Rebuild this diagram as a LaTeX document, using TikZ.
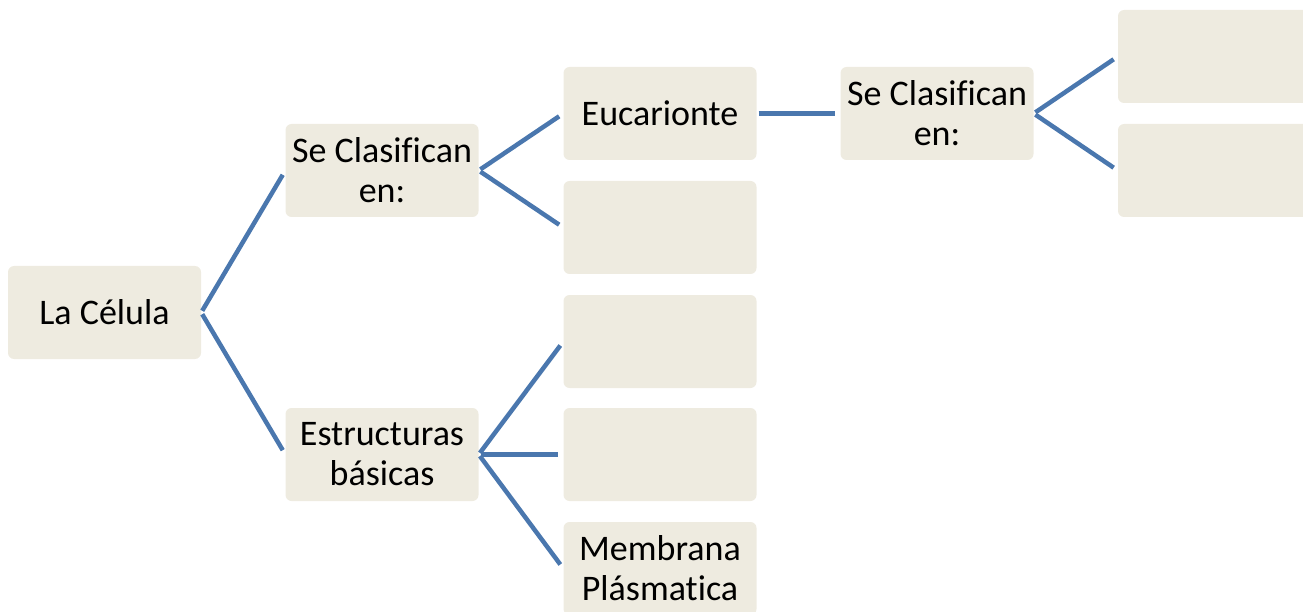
\documentclass[tikz,border=0pt]{standalone}
\usepackage{fontspec}
\setmainfont[Ligatures=NoCommon]{Carlito}
\usepackage{tikz}

\definecolor{boxfill}{HTML}{EEEBE0}
\definecolor{linkblue}{HTML}{4A77AE}

\begin{document}
\begin{tikzpicture}[x=1pt,y=-1pt,
    cell/.style={fill=boxfill,rounded corners=6pt,minimum width=193pt,minimum height=93pt,
      inner sep=0pt,align=center,font=\fontsize{36}{40}\selectfont},
    link/.style={draw=linkblue,line width=4.5pt,shorten <=2pt,shorten >=5pt}]
  \useasboundingbox (0,0) rectangle (1303,612);
  \clip (0,0) rectangle (1303,612);

  \node[cell] (celula) at (104.5,312.5) {La Célula};
  \node[cell] (clasif) at (382,170.5) {Se Clasifican\\en:};
  \node[cell] (estruc) at (382,454.5) {Estructuras\\básicas};

  \node[cell] (euca) at (660,113.5) {Eucarionte};
  \node[cell] (tipoB) at (660,227.5) {};
  \node[cell] (estA) at (660,341.5) {};
  \node[cell] (estB) at (660,454.5) {};
  \node[cell] (membr) at (660,568.5) {Membrana\\Plásmatica};

  \node[cell] (clasifB) at (937,113.5) {Se Clasifican\\en:};
  \node[cell] (subA) at (1214.5,56.5) {};
  \node[cell] (subB) at (1214.5,170.5) {};

  \draw[link] (celula.east) -- (clasif.west);
  \draw[link] (celula.east) -- (estruc.west);
  \draw[link] (clasif.east) -- (euca.west);
  \draw[link] (clasif.east) -- (tipoB.west);
  \draw[link] (estruc.east) -- (estA.west);
  \draw[link] (estruc.east) -- (estB.west);
  \draw[link] (estruc.east) -- (membr.west);
  \draw[link] (euca.east) -- (clasifB.west);
  \draw[link] (clasifB.east) -- (subA.west);
  \draw[link] (clasifB.east) -- (subB.west);
\end{tikzpicture}
\end{document}
